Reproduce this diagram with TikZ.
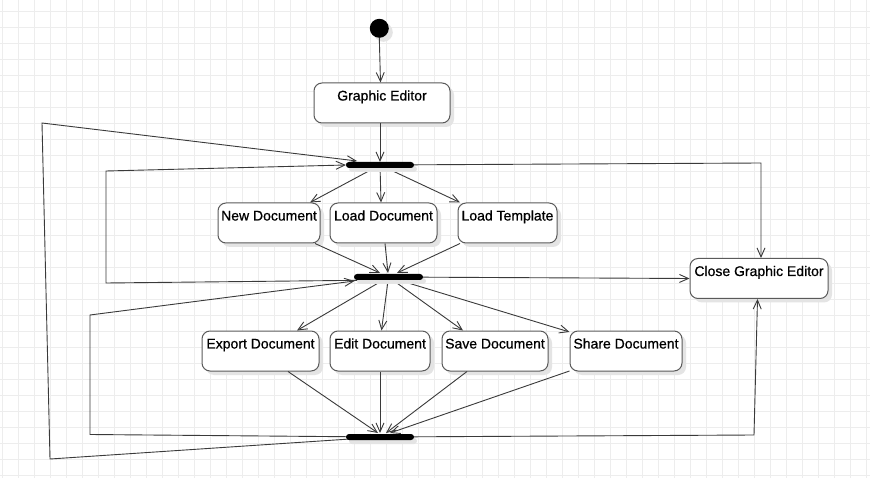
\documentclass[tikz,border=0pt]{standalone}
\usepackage{fontspec}
\setmainfont{Liberation Sans}
\newfontfamily\boxfont{Liberation Sans}[FakeBold=0.7]
\usetikzlibrary{arrows.meta,shadows}
\definecolor{gridc}{HTML}{EDEDED}
\definecolor{linec}{HTML}{3A3A3A}
\definecolor{boxc}{HTML}{5A5A5A}
\definecolor{shadc}{HTML}{E4E4E4}
\begin{document}
\begin{tikzpicture}[x=1pt,y=-1pt,
  act/.style={draw=boxc, line width=1pt, rounded corners=8pt, fill=white,
    inner sep=0pt, minimum height=40pt, text height=17.5pt, text depth=22.5pt,
    font=\boxfont\fontsize{14}{16}\selectfont, text=black,
    drop shadow={shadow xshift=4pt,shadow yshift=-4pt,fill=shadc,opacity=1}},
  forkbar/.style={fill=black, rounded corners=3pt, inner sep=0pt,
    minimum width=68pt, minimum height=6pt,
    drop shadow={shadow xshift=3pt,shadow yshift=-4pt,fill=shadc,opacity=1}},
  startnode/.style={circle, fill=black, inner sep=0pt, minimum size=19pt,
    drop shadow={shadow xshift=4pt,shadow yshift=-4pt,fill=shadc,opacity=1}},
  conn/.style={draw=linec, line width=0.9pt, -{Straight Barb[length=9pt,width=8pt]}},
  plain/.style={draw=linec, line width=0.9pt}]
\useasboundingbox (0,0) rectangle (870,478);
\fill[white] (0,0) rectangle (870,478);
\foreach \i in {0,...,54} {\draw[gridc, line width=0.8pt] (2.7+16*\i,0) -- (2.7+16*\i,478);}
\foreach \j in {0,...,29} {\draw[gridc, line width=0.8pt] (0,11.3+16*\j) -- (870,11.3+16*\j);}

% nodes
\node[startnode] (st) at (379.3,28.3) {};
\node[act, minimum width=136pt] (ge) at (382,103) {Graphic Editor};
\node[act, minimum width=102pt] (nd) at (269,223) {New Document};
\node[act, minimum width=107pt] (ld) at (383.5,223) {Load Document};
\node[act, minimum width=99pt] (lt) at (507.5,223) {Load Template};
\node[act, minimum width=138pt] (cg) at (759,278.5) {Close Graphic Editor};
\node[act, minimum width=117pt] (ex) at (260.5,351) {Export Document};
\node[act, minimum width=100pt] (ed) at (380,351) {Edit Document};
\node[act, minimum width=106pt] (sv) at (495,351) {Save Document};
\node[act, minimum width=112pt] (sh) at (626,351) {Share Document};

\coordinate (b1c) at (380,165);
\coordinate (b2c) at (388.5,277);
\coordinate (b3c) at (380,437);

\coordinate (c1) at (761,163);
\coordinate (o1) at (50,459);
\coordinate (o2) at (42,123);
\coordinate (i1) at (106,283);
\coordinate (i2) at (106,171);
\coordinate (m1) at (90,434.5);
\coordinate (m2) at (90,315);
\coordinate (r1) at (754,435);

% connectors drawn below the bars
\draw[conn] (st.south) -- ([xshift=-1.5pt]ge.north);
\draw[conn] ([xshift=-2pt]ge.south) -- ([yshift=3pt]b1c);
\draw[conn] (b1c) -- ([xshift=41pt]nd.north);
\draw[conn] (b1c) -- ([xshift=-2.5pt]ld.north);
\draw[conn] (b1c) -- ([xshift=-47.5pt]lt.north);
\draw[conn] (b1c) -- (c1) -- ([xshift=2pt]cg.north);
\draw[conn] (b3c) -- (o1) -- (o2) -- ([xshift=-23pt,yshift=4pt]b1c);
\draw[conn] ([yshift=-3pt]b2c) -- (i1) -- (i2) -- ([xshift=-34pt]b1c);
\draw[conn] (b3c) -- (m1) -- (m2) -- ([xshift=-34pt,yshift=-4pt]b2c);
\draw[conn] (b2c) -- (cg.west);
\draw[conn] (b3c) -- (r1) -- ([xshift=-1.5pt]cg.south);
\draw[conn] ([xshift=46pt]nd.south) -- ([xshift=-8.5pt,yshift=4pt]b2c);
\draw[conn] ([xshift=1.5pt]ld.south) -- ([xshift=-0.5pt,yshift=4pt]b2c);
\draw[conn] ([xshift=-47.5pt]lt.south) -- ([xshift=8.5pt,yshift=4pt]b2c);
\draw[conn] (b2c) -- ([xshift=36.5pt]ex.north);
\draw[conn] (b2c) -- ([xshift=1.5pt]ed.north);
\draw[conn] (b2c) -- ([xshift=-32pt]sv.north);
\draw[conn] (b2c) -- ([yshift=-1.5pt]sh.north west);
\draw[conn] ([xshift=27.5pt]ex.south) -- ([xshift=-2pt,yshift=4pt]b3c);
\draw[conn] (ed.south) -- ([yshift=4pt]b3c);
\draw[conn] ([xshift=-28pt]sv.south) -- ([xshift=6pt,yshift=4pt]b3c);
\draw[conn] ([yshift=0.5pt]sh.south west) -- ([xshift=10pt,yshift=4pt]b3c);

% bars
\node[forkbar] (b1) at (b1c) {};
\node[forkbar, minimum width=69pt] (b2) at (b2c) {};
\node[forkbar] (b3) at (b3c) {};
\end{tikzpicture}
\end{document}
